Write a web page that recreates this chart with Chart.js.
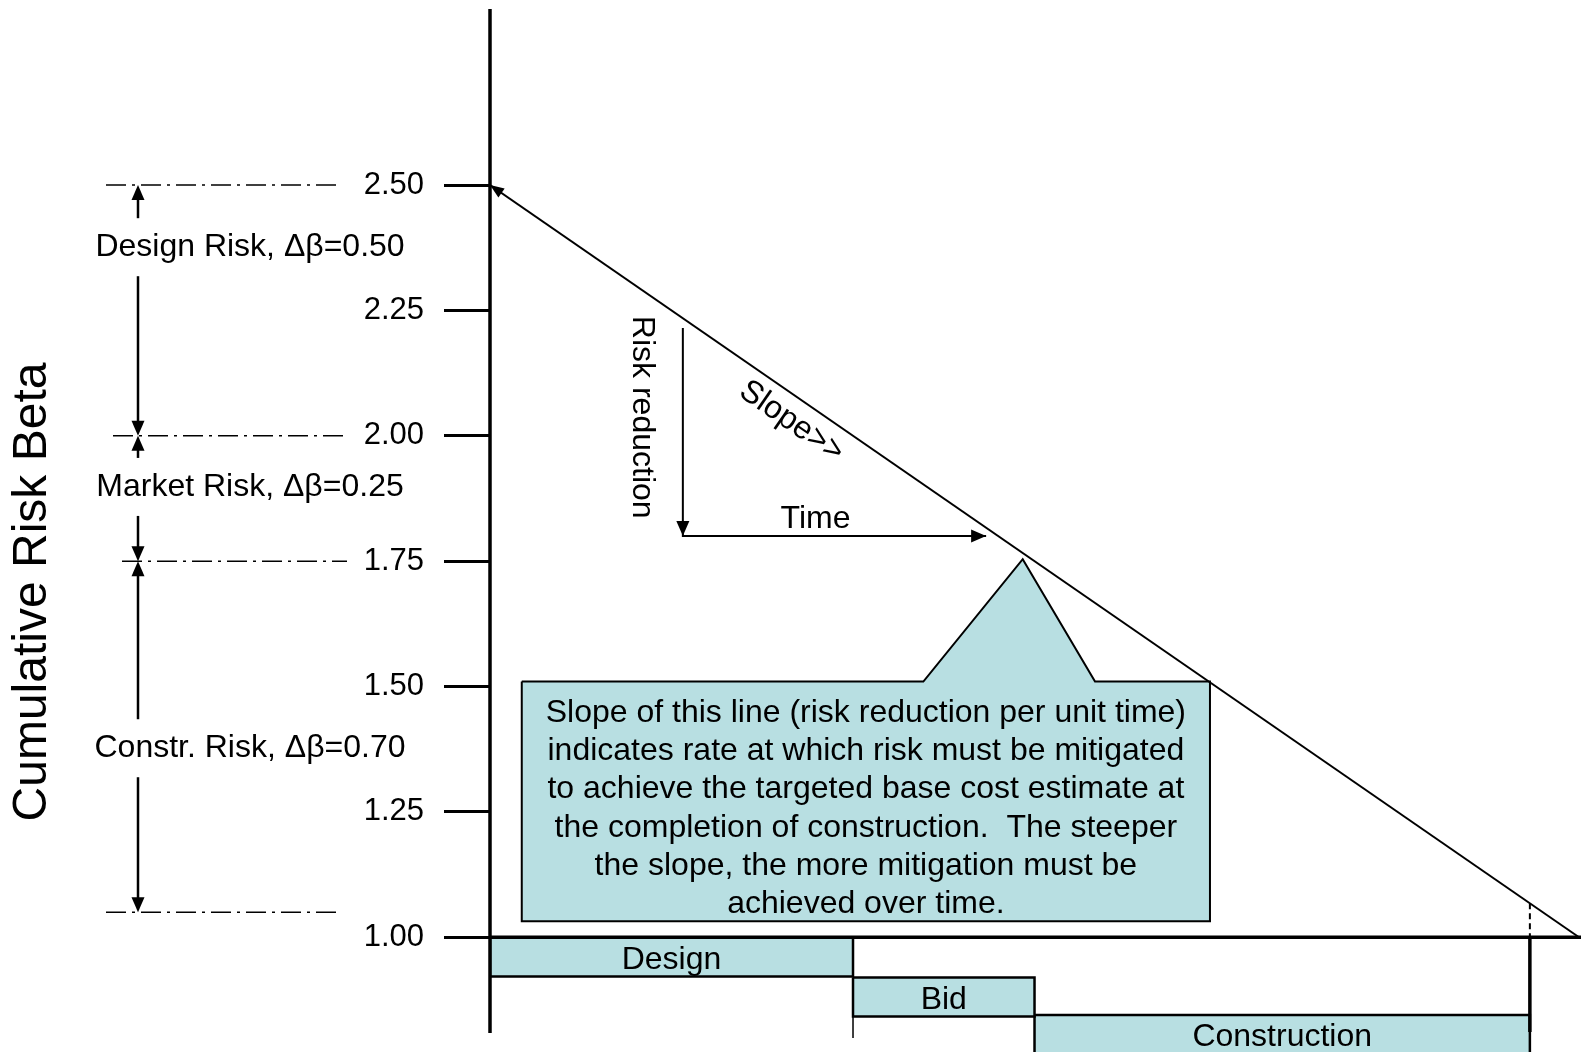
<!DOCTYPE html>
<html>
<head>
<meta charset="utf-8">
<title>Cumulative Risk Beta</title>
<script src="https://cdn.jsdelivr.net/npm/chart.js@4/dist/chart.umd.min.js"></script>
<style>
  html, body { margin: 0; padding: 0; background: #ffffff; overflow: hidden; }
  canvas { display: block; }
</style>
</head>
<body>
<canvas id="riskChart" width="1581" height="1052"></canvas>
<script>
// ---- Data ----------------------------------------------------------------
// Project phases on the time axis (months)
const phaseNames = ['Design', 'Bid', 'Construction'];
const phaseStartMonth = [0, 24, 36];
const phaseEndMonth = [24, 36, 68.75];

// Required risk burn-down: beta falls from 2.50 to 1.00
const slopeMonths = [0, 72];
const slopeBeta = [2.50, 1.00];

// Y-axis tick values
const betaTicks = [1.00, 1.25, 1.50, 1.75, 2.00, 2.25, 2.50];

// Risk components stacked down from the starting beta
const riskNames = ['Design Risk', 'Market Risk', 'Constr. Risk'];
const riskFrom = [2.50, 2.00, 1.75];
const riskDelta = [0.50, 0.25, 0.70];

const calloutLines = [
  'Slope of this line (risk reduction per unit time)',
  'indicates rate at which risk must be mitigated',
  'to achieve the targeted base cost estimate at',
  'the completion of construction.  The steeper',
  'the slope, the more mitigation must be',
  'achieved over time.'
];
const axisTitle = 'Cumulative Risk Beta';

// ---- Layout and style ----------------------------------------------------
const FONT = '"Liberation Sans", Arial, Helvetica, sans-serif';
const FILL = '#B8DFE2';
const INK = '#000000';
const X_MAX = 72.13;
const Y_MIN = 0.7713;
const Y_MAX = 2.8689;
const AXIS_BOX_WIDTH = 490;

const phaseRowTop = [1.00, 0.92, 0.845];
const phaseRowDepth = 0.078;
const axisLineSpan = [2.851, 0.809];
const designSeparatorBottom = 0.799;
const constructionEndBottom = 0.811;

const callout = { left: 2.1, right: 47.6, top: 1.51, bottom: 1.032,
                  baseLeft: 28.65, baseRight: 40.0, tipX: 35.22, tipY: 1.754 };
const slopeGuide = { x: 12.75, top: 2.215, corner: 1.80, right: 32.8 };
const slopeGuideText = { risk: { x: 10.05, y: 2.037 }, time: { x: 21.52, y: 1.833 }, slope: { x: 19.93, y: 2.028 } };

// left-hand bracket layout (pixels across, beta values down)
const bracketX = 138;
const guideSpans = [[106, 340], [113, 347], [122, 347], [106, 340]];
const riskLabelAt = [2.376, 1.898, 1.377];
const labelGapPx = 29;
const titleCenter = { x: 33, y: 592 };

// ---- Datasets -------------------------------------------------------------
const pts = (xs, ys) => xs.map((x, i) => ({ x: x, y: ys[i] }));

function boxPolygon(x0, x1, top, bottom) {
  return pts([x0, x1, x1, x0, x0], [top, top, bottom, bottom, top]);
}

const baseStyle = { pointRadius: 0, pointHoverRadius: 0, tension: 0, borderColor: INK, fill: false };

const datasets = [];

datasets.push(Object.assign({}, baseStyle, {
  label: 'Risk beta target',
  data: pts(slopeMonths, slopeBeta),
  borderWidth: 2
}));

datasets.push(Object.assign({}, baseStyle, {
  label: 'Baseline',
  data: pts([0, X_MAX], [slopeBeta[1], slopeBeta[1]]),
  borderWidth: 3.5
}));

datasets.push(Object.assign({}, baseStyle, {
  label: 'Slope guide',
  data: pts([slopeGuide.x, slopeGuide.x, slopeGuide.right],
            [slopeGuide.top, slopeGuide.corner, slopeGuide.corner]),
  borderWidth: 2
}));

datasets.push(Object.assign({}, baseStyle, {
  label: 'Design end',
  data: pts([phaseEndMonth[0], phaseEndMonth[0]], [phaseRowTop[1], designSeparatorBottom]),
  borderWidth: 1.5
}));

datasets.push(Object.assign({}, baseStyle, {
  label: 'Construction end',
  data: pts([phaseEndMonth[2], phaseEndMonth[2]], [slopeBeta[1], constructionEndBottom]),
  borderWidth: 3.5
}));

phaseNames.forEach((name, i) => {
  datasets.push(Object.assign({}, baseStyle, {
    label: name,
    data: boxPolygon(phaseStartMonth[i], phaseEndMonth[i], phaseRowTop[i], phaseRowTop[i] - phaseRowDepth),
    borderWidth: 2.5,
    backgroundColor: FILL,
    fill: 'shape'
  }));
});

datasets.push(Object.assign({}, baseStyle, {
  label: 'Callout',
  data: pts(
    [callout.left, callout.baseLeft, callout.tipX, callout.baseRight, callout.right, callout.right, callout.left, callout.left],
    [callout.top, callout.top, callout.tipY, callout.top, callout.top, callout.bottom, callout.bottom, callout.top]),
  borderWidth: 2,
  backgroundColor: FILL,
  fill: 'shape'
}));

// ---- Annotation drawing --------------------------------------------------
function arrowHead(ctx, x, y, angle, len, half) {
  ctx.save();
  ctx.translate(x, y);
  ctx.rotate(angle);
  ctx.beginPath();
  ctx.moveTo(0, 0);
  ctx.lineTo(-len, -half);
  ctx.lineTo(-len, half);
  ctx.closePath();
  ctx.fill();
  ctx.restore();
}

function line(ctx, x0, y0, x1, y1, width, dash) {
  ctx.save();
  ctx.lineWidth = width;
  ctx.setLineDash(dash || []);
  ctx.beginPath();
  ctx.moveTo(x0, y0);
  ctx.lineTo(x1, y1);
  ctx.stroke();
  ctx.restore();
}

const annotations = {
  id: 'riskAnnotations',
  afterDatasetsDraw(chart) {
    const ctx = chart.ctx;
    const X = v => chart.scales.x.getPixelForValue(v);
    const Y = v => chart.scales.y.getPixelForValue(v);
    ctx.save();
    ctx.fillStyle = INK;
    ctx.strokeStyle = INK;

    // vertical axis
    line(ctx, X(0), Y(axisLineSpan[0]), X(0), Y(axisLineSpan[1]), 3.5);

    // arrowhead at the start of the target line
    const sx0 = X(slopeMonths[0]), sy0 = Y(slopeBeta[0]);
    const sx1 = X(slopeMonths[1]), sy1 = Y(slopeBeta[1]);
    arrowHead(ctx, sx0, sy0, Math.atan2(sy0 - sy1, sx0 - sx1), 14, 5.5);

    // dashed drop from the target line at the end of construction
    const endM = phaseEndMonth[2];
    const betaAtEnd = slopeBeta[0] + (slopeBeta[1] - slopeBeta[0]) * (endM - slopeMonths[0]) / (slopeMonths[1] - slopeMonths[0]);
    line(ctx, X(endM), Y(betaAtEnd), X(endM), Y(slopeBeta[1]), 2, [6, 4]);

    // risk-reduction / time guide arrows
    arrowHead(ctx, X(slopeGuide.x), Y(slopeGuide.corner), Math.PI / 2, 15, 6.5);
    arrowHead(ctx, X(slopeGuide.right), Y(slopeGuide.corner), 0, 15, 6.5);

    // left-hand risk brackets
    const guideValues = riskFrom.concat([riskFrom[2] - riskDelta[2]]);
    guideValues.forEach((v, i) => {
      line(ctx, guideSpans[i][0], Y(v), guideSpans[i][1], Y(v), 1.5, [20, 6, 3, 6]);
    });
    ctx.font = '32px ' + FONT;
    ctx.textAlign = 'center';
    ctx.textBaseline = 'middle';
    riskNames.forEach((name, i) => {
      const yTop = Y(riskFrom[i]);
      const yBot = Y(riskFrom[i] - riskDelta[i]);
      const yLab = Y(riskLabelAt[i]);
      line(ctx, bracketX, yTop + 12, bracketX, yLab - labelGapPx, 2.5);
      line(ctx, bracketX, yLab + labelGapPx, bracketX, yBot - 12, 2.5);
      arrowHead(ctx, bracketX, yTop, -Math.PI / 2, 15, 6.5);
      arrowHead(ctx, bracketX, yBot, Math.PI / 2, 15, 6.5);
      ctx.fillText(name + ', \u0394\u03B2=' + riskDelta[i].toFixed(2), 250, yLab);
    });

    // phase labels
    phaseNames.forEach((name, i) => {
      const cx = (X(phaseStartMonth[i]) + X(phaseEndMonth[i])) / 2;
      const cy = (Y(phaseRowTop[i]) + Y(phaseRowTop[i] - phaseRowDepth)) / 2;
      ctx.fillText(name, cx, cy + 3);
    });

    // callout text
    const ccx = (X(callout.left) + X(callout.right)) / 2;
    const cTop = Y(callout.top);
    calloutLines.forEach((t, i) => ctx.fillText(t, ccx, cTop + 31.5 + i * 38.3));

    // guide labels
    ctx.fillText('Time', X(slopeGuideText.time.x), Y(slopeGuideText.time.y));
    ctx.save();
    ctx.translate(X(slopeGuideText.risk.x), Y(slopeGuideText.risk.y));
    ctx.rotate(Math.PI / 2);
    ctx.fillText('Risk reduction', 0, 0);
    ctx.restore();
    ctx.save();
    ctx.translate(X(slopeGuideText.slope.x), Y(slopeGuideText.slope.y));
    ctx.rotate(Math.atan2(sy1 - sy0, sx1 - sx0));
    ctx.fillText('Slope>>', 0, 0);
    ctx.restore();

    // axis title
    ctx.save();
    ctx.font = '48px ' + FONT;
    ctx.translate(titleCenter.x, titleCenter.y);
    ctx.rotate(-Math.PI / 2);
    ctx.fillText(axisTitle, 0, 0);
    ctx.restore();

    ctx.restore();
  }
};

// ---- Chart ----------------------------------------------------------------
new Chart(document.getElementById('riskChart'), {
  type: 'line',
  data: { datasets: datasets },
  options: {
    responsive: false,
    animation: false,
    devicePixelRatio: 1,
    layout: { padding: 0 },
    plugins: { legend: { display: false }, tooltip: { enabled: false }, title: { display: false } },
    events: [],
    scales: {
      x: {
        type: 'linear',
        display: false,
        min: 0,
        max: X_MAX
      },
      y: {
        type: 'linear',
        min: Y_MIN,
        max: Y_MAX,
        border: { display: false },
        grid: {
          drawOnChartArea: false,
          drawTicks: true,
          tickLength: 46,
          color: INK,
          lineWidth: 3
        },
        ticks: {
          autoSkip: false,
          padding: 20,
          color: INK,
          font: { family: FONT, size: 31 },
          callback: v => Number(v).toFixed(2)
        },
        afterBuildTicks: scale => { scale.ticks = betaTicks.map(v => ({ value: v })); },
        afterFit: scale => {
          scale.width = AXIS_BOX_WIDTH;
          scale.paddingTop = 0;
          scale.paddingBottom = 0;
        }
      }
    }
  },
  plugins: [annotations]
});
</script>
</body>
</html>
